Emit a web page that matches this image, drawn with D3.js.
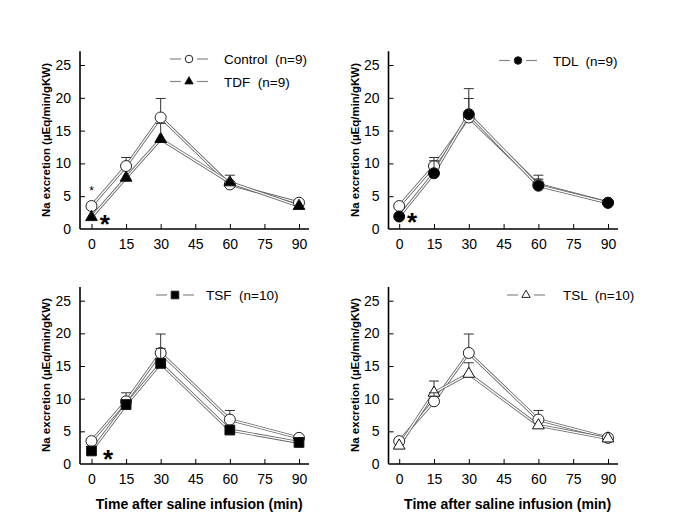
<!DOCTYPE html>
<html>
<head>
<meta charset="utf-8">
<script src="https://cdn.jsdelivr.net/npm/d3@7"></script>
<style>
  html, body { margin: 0; padding: 0; background: #fff; }
  svg { display: block; font-family: "Liberation Sans", Arial, sans-serif; }
</style>
</head>
<body>
<svg id="chart" width="685" height="527"></svg>
<script>
// ---------------- data ----------------
const times = [0, 15, 30, 60, 90];
const xTicks = [0, 15, 30, 45, 60, 75, 90];
const yTicks = [0, 5, 10, 15, 20, 25];

const controlMean = [3.5, 9.6, 17.0, 6.8, 4.0];
const controlErr  = [0, 1.3, 2.9, 1.4, 0];

const tdfMean = [1.8, 7.8, 13.7, 7.1, 3.5];
const tdfErr  = [0, 0, 2.4, 0, 0];

const tdlMean = [1.9, 8.5, 17.5, 6.6, 4.0];
const tdlErr  = [0, 1.9, 3.9, 1.0, 0];

const tsfMean = [2.0, 9.1, 15.4, 5.2, 3.3];
const tsfErr  = [0, 0, 2.3, 0, 0];

const tslMean = [2.8, 10.9, 13.8, 5.9, 3.9];
const tslErr  = [0, 1.8, 1.7, 0, 0];

const groupNames = ["TDF  (n=9)", "TDL  (n=9)", "TSF  (n=10)", "TSL  (n=10)"];
const controlName = "Control  (n=9)";
const yTitle = "Na excretion (µEq/min/gKW)";
const xTitle = "Time after saline infusion (min)";

// significance marks: [panel, time, value, kind]
const marks = [
  [0, 0, 6.3, "small"],
  [0, 5.8, 1.6, "big"],
  [1, 5.5, 1.9, "big"],
  [2, 7.2, 1.7, "big"]
];

// ---------------- layout ----------------
const cols = [
  { axisX: 80, x0: 91.5, x90: 299, xEnd: 309, titleX: 46 },
  { axisX: 388.5, x0: 399.2, x90: 608, xEnd: 618, titleX: 355 }
];
const rows = [
  { y0: 229, y25: 65 },
  { y0: 464, y25: 300.7 }
];

const panels = [
  { col: 0, row: 0, mean: tdfMean, err: tdfErr, shape: "triangle", fill: "#000", name: groupNames[0],
    legend: [{ x: 189, y: 59, shape: "circle", fill: "#fff", label: controlName }, { x: 189, y: 81.5, shape: "triangle", fill: "#000", label: groupNames[0] }], textX: 224, showXTitle: false },
  { col: 1, row: 0, mean: tdlMean, err: tdlErr, shape: "circle", fill: "#000", name: groupNames[1],
    legend: [{ x: 518, y: 60.5, shape: "circle", fill: "#000", label: groupNames[1] }], textX: 553, showXTitle: false },
  { col: 0, row: 1, mean: tsfMean, err: tsfErr, shape: "square", fill: "#000", name: groupNames[2],
    legend: [{ x: 175, y: 295, shape: "square", fill: "#000", label: groupNames[2] }], textX: 206, showXTitle: true },
  { col: 1, row: 1, mean: tslMean, err: tslErr, shape: "triangle", fill: "#fff", name: groupNames[3],
    legend: [{ x: 526, y: 295, shape: "triangle", fill: "#fff", label: groupNames[3] }], textX: 563, showXTitle: true }
];

const svg = d3.select("#chart");

function symbolPath(shape, big) {
  let type, size;
  if (shape === "circle") { type = d3.symbolCircle; size = big ? 95 : 45; }
  else if (shape === "triangle") { type = d3.symbolTriangle; size = big ? 60 : 30; }
  else { type = d3.symbolSquare; size = big ? 95 : 58; }
  return d3.symbol().type(type).size(size)();
}

panels.forEach((p, i) => {
  const c = cols[p.col], r = rows[p.row];
  const x = d3.scaleLinear().domain([0, 90]).range([c.x0, c.x90]);
  const y = d3.scaleLinear().domain([0, 25]).range([r.y0, r.y25]);
  const g = svg.append("g");

  // axes
  const yTopVal = 27.1;
  g.append("line").attr("x1", c.axisX).attr("x2", c.axisX)
    .attr("y1", y(0)).attr("y2", y(yTopVal)).attr("stroke", "#000").attr("stroke-width", 1.6);
  g.append("line").attr("x1", c.axisX).attr("x2", c.xEnd)
    .attr("y1", y(0)).attr("y2", y(0)).attr("stroke", "#000").attr("stroke-width", 1.6);

  const yAx = d3.axisLeft(y).tickValues(yTicks).tickSize(-5).tickPadding(9).tickFormat(d3.format("d"));
  const yg = g.append("g").attr("transform", `translate(${c.axisX},0)`).call(yAx);
  const xAx = d3.axisBottom(x).tickValues(xTicks).tickSize(-5).tickPadding(10).tickFormat(d3.format("d"));
  const xg = g.append("g").attr("transform", `translate(0,${r.y0})`).call(xAx);
  [yg, xg].forEach(a => {
    a.select(".domain").remove();
    a.selectAll(".tick line").attr("stroke", "#000").attr("stroke-width", 1);
    a.selectAll(".tick text").attr("font-size", 14).attr("fill", "#000")
      .attr("font-family", "'Liberation Sans', Arial, sans-serif");
  });
  yg.selectAll(".tick").filter(d => d === 0).select("line").remove();

  // y title
  g.append("text")
    .attr("transform", `translate(${c.titleX},${r.y0 - 89}) rotate(-90)`)
    .attr("text-anchor", "middle").attr("dominant-baseline", "central")
    .attr("font-size", 11.5).attr("font-weight", "bold").attr("fill", "#000")
    .attr("textLength", 154).attr("lengthAdjust", "spacingAndGlyphs")
    .text(yTitle);

  if (p.showXTitle) {
    g.append("text")
      .attr("x", (c.x0 + c.x90) / 2 + 4).attr("y", 509)
      .attr("text-anchor", "middle")
      .attr("font-size", 14).attr("font-weight", "bold").attr("fill", "#000")
      .attr("textLength", 207).attr("lengthAdjust", "spacingAndGlyphs")
      .text(xTitle);
  }

  const line = d3.line().x((d, k) => x(times[k])).y(d => y(d));

  // double-line style connections
  [controlMean, p.mean].forEach(series => {
    g.append("path").attr("d", line(series)).attr("fill", "none")
      .attr("stroke", "#666").attr("stroke-width", 3.0);
    g.append("path").attr("d", line(series)).attr("fill", "none")
      .attr("stroke", "#fff").attr("stroke-width", 1.3);
  });

  // markers
  g.selectAll(".ctl").data(controlMean).join("path")
    .attr("d", symbolPath("circle", true))
    .attr("transform", (d, k) => `translate(${x(times[k])},${y(d)})`)
    .attr("fill", "#fff").attr("stroke", "#222").attr("stroke-width", 1);
  g.selectAll(".grp").data(p.mean).join("path")
    .attr("d", symbolPath(p.shape, true))
    .attr("transform", (d, k) => `translate(${x(times[k])},${y(d)})`)
    .attr("fill", p.fill).attr("stroke", "#111").attr("stroke-width", 1);

  // error bars (upper only)
  const errs = [];
  controlMean.forEach((m, k) => { if (controlErr[k] > 0) errs.push([times[k], m, controlErr[k]]); });
  p.mean.forEach((m, k) => { if (p.err[k] > 0) errs.push([times[k], m, p.err[k]]); });
  errs.forEach(([t, m, e]) => {
    const cx = x(t);
    const topY = y(m + e);
    const startY = y(m) - 5;
    g.append("line").attr("x1", cx).attr("x2", cx).attr("y1", startY).attr("y2", topY)
      .attr("stroke", "#333").attr("stroke-width", 1);
    g.append("line").attr("x1", cx - 5).attr("x2", cx + 5).attr("y1", topY).attr("y2", topY)
      .attr("stroke", "#333").attr("stroke-width", 1);
  });

  // legend
  p.legend.forEach(L => {
    g.append("line").attr("x1", L.x - 19).attr("x2", L.x - 8).attr("y1", L.y).attr("y2", L.y)
      .attr("stroke", "#888").attr("stroke-width", 1.2);
    g.append("line").attr("x1", L.x + 8).attr("x2", L.x + 19).attr("y1", L.y).attr("y2", L.y)
      .attr("stroke", "#888").attr("stroke-width", 1.2);
    g.append("path").attr("d", symbolPath(L.shape, false))
      .attr("transform", `translate(${L.x},${L.y})`)
      .attr("fill", L.fill).attr("stroke", "#222").attr("stroke-width", 1);
    g.append("text").attr("x", p.textX).attr("y", L.y + 5)
      .attr("font-size", 13.5).attr("fill", "#000")
      .style("white-space", "pre")
      .text(L.label);
  });

  // significance marks
  marks.filter(m => m[0] === i).forEach(([, t, v, kind]) => {
    const big = kind === "big";
    const fs = big ? 26 : 12;
    g.append("text")
      .attr("x", x(t)).attr("y", y(v) + fs * 0.57)
      .attr("text-anchor", "middle")
      .attr("font-size", fs).attr("font-weight", big ? "bold" : "normal")
      .attr("fill", "#000")
      .text("*");
  });
});
</script>
</body>
</html>
